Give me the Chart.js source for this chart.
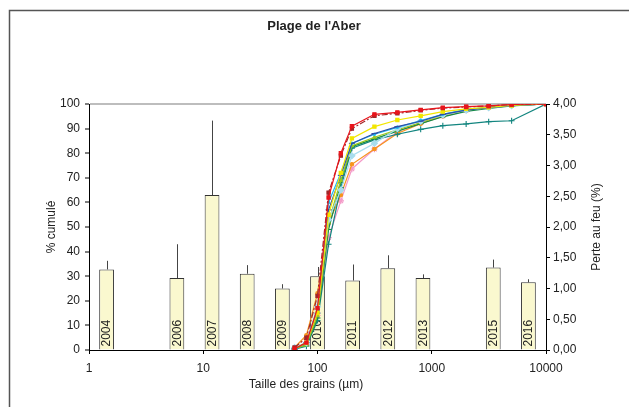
<!DOCTYPE html>
<html>
<head>
<meta charset="utf-8">
<script src="https://cdn.jsdelivr.net/npm/chart.js@4.4.0/dist/chart.umd.min.js"></script>
<style>
  html, body { margin: 0; padding: 0; background: #fff; }
  #wrap { width: 629px; height: 407px; position: relative; }
</style>
</head>
<body>
<div id="wrap"><canvas id="c" width="629" height="407"></canvas></div>
<script>
// ---- Data ----
const sizes = [63, 80, 100, 125, 160, 200, 315, 500, 800, 1250, 2000, 3150, 5000, 10000];

const cumRed      = [0.5, 3, 17, 62, 80, 91, 95.8, 96.6, 97.6, 98.5, 98.9, 99.2, 99.8, 100];
const cumDarkRed  = [1, 5, 22, 64, 79, 90, 95.2, 96.2, 97.4, 98.3, 98.8, 99.2, 99.8, 100];
const cumYellow   = [0.5, 3, 15, 55, 72, 86, 90.8, 93.5, 95.2, 96.9, 98, 98.6, 99.4, 100];
const cumBlue     = [0.5, 3, 15, 57, 71, 84, 88, 90.8, 93, 95.8, 97.5, 98.5, 99.3, 100];
const cumCyan     = [0.5, 3, 17, 60, 72, 84, 87.7, 90.5, 93.3, 95.8, 97.8, 98.6, 99.3, 100];
const cumLightBlue= [1, 3, 17.6, 53, 65, 79, 84, 90, 93, 95.5, 97.5, 98.5, 99.3, 100];
const cumOlive    = [0.5, 2, 14, 52, 69, 83, 86.5, 89.5, 92.5, 95.5, 97.5, 98.5, 99.3, 100];
const cumGreen    = [0.5, 2, 13, 49, 68, 82.7, 85.8, 89, 92, 94.8, 97, 98.2, 99.2, 100];
const cumTeal     = [0.3, 1.5, 12, 43, 66, 82, 85.4, 87.7, 89.7, 91.2, 91.9, 92.8, 93.2, 100];
const cumOrange   = [1, 6, 23, 51.5, 63, 75.5, 81.7, 88, 92, 95, 97.3, 98.5, 99.3, 100];
const cumPink     = [0.3, 2.5, 14, 45.7, 60.6, 73.6, 81.7, 88.7, 92.5, 95.2, 97.5, 98.7, 99.5, 100];

const years     = ['2004','2005','2006','2007','2008','2009','2010','2011','2012','2013','2014','2015','2016'];
const lossValues= [1.31, null, 1.17, 2.52, 1.24, 1.00, 1.20, 1.13, 1.33, 1.17, null, 1.34, 1.10];
const lossErr   = [0.14, null, 0.55, 1.21, 0.14, 0.07, 0.15, 0.26, 0.21, 0.06, null, 0.13, 0.05];

const xTicks  = [1, 10, 100, 1000, 10000];

// ---- Build ----
const FONT = '"Liberation Sans", Arial, sans-serif';
const toXY = arr => sizes.map((s, i) => ({ x: s, y: arr[i] }));

const lineDefs = [
  { d: cumRed,       c: '#E8141B', p: 'rect', r: 2.3 },
  { d: cumDarkRed,   c: '#A0282A', p: 'rect', r: 2.3, dash: [6, 2, 2, 2] },
  { d: cumYellow,    c: '#F2E600', p: 'rect', r: 2.3 },
  { d: cumBlue,      c: '#2F4FA8', p: 'line', r: 3 },
  { d: cumCyan,      c: '#1EBBF0', p: 'circle', r: 1.2 },
  { d: cumLightBlue, c: '#A8DDEE', p: 'rectRot', r: 3 },
  { d: cumOlive,     c: '#9CC81E', p: 'triangle', r: 1.8 },
  { d: cumGreen,     c: '#13894A', p: 'line', r: 3 },
  { d: cumTeal,      c: '#12857F', p: 'cross', r: 3 },
  { d: cumOrange,    c: '#F7941D', p: 'circle', r: 1.8 },
  { d: cumPink,      c: '#F49AC8', p: 'star', r: 3.2 }
];

const datasets = lineDefs.map(l => ({
  type: 'line',
  data: toXY(l.d),
  xAxisID: 'x',
  yAxisID: 'y',
  borderColor: l.c,
  backgroundColor: l.c,
  borderWidth: 1.2,
  borderDash: l.dash || [],
  pointStyle: l.p,
  pointRadius: l.r,
  pointBorderWidth: 1.1,
  pointBorderColor: l.c,
  pointBackgroundColor: l.c,
  tension: 0,
  fill: false,
  order: 0
}));

datasets.push({
  type: 'bar',
  data: lossValues,
  xAxisID: 'xb',
  yAxisID: 'y2',
  backgroundColor: '#FAF8CF',
  borderColor: '#333333',
  borderWidth: 1,
  barPercentage: 0.42,
  categoryPercentage: 1,
  grouped: false,
  order: 100
});
const BAR_INDEX = datasets.length - 1;

const decor = {
  id: 'decor',
  afterDatasetDraw(chart, args) {
    if (args.index !== BAR_INDEX) return;
    const ctx = chart.ctx;
    const meta = chart.getDatasetMeta(BAR_INDEX);
    const y2 = chart.scales.y2;
    ctx.save();
    meta.data.forEach((bar, i) => {
      if (lossValues[i] == null) return;
      const top = y2.getPixelForValue(lossValues[i] + lossErr[i]);
      ctx.strokeStyle = '#444';
      ctx.lineWidth = 1;
      ctx.beginPath();
      ctx.moveTo(Math.round(bar.x) + 0.5, bar.y);
      ctx.lineTo(Math.round(bar.x) + 0.5, top);
      ctx.stroke();
      ctx.save();
      ctx.translate(bar.x, bar.base - 3);
      ctx.rotate(-Math.PI / 2);
      ctx.fillStyle = '#222';
      ctx.font = '12px ' + FONT;
      ctx.textAlign = 'left';
      ctx.textBaseline = 'middle';
      ctx.fillText(years[i], 0, 0.5);
      ctx.restore();
    });
    ctx.restore();
  },
  afterDraw(chart) {
    const ctx = chart.ctx;
    const a = chart.chartArea;
    ctx.save();
    ctx.strokeStyle = '#555';
    ctx.lineWidth = 1.5;
    ctx.beginPath();
    ctx.moveTo(9.5, 407);
    ctx.lineTo(9.5, 10.5);
    ctx.lineTo(629, 10.5);
    ctx.stroke();
    ctx.fillStyle = '#222';
    ctx.font = 'bold 13px ' + FONT;
    ctx.textAlign = 'center';
    ctx.textBaseline = 'middle';
    ctx.fillText("Plage de l'Aber", 314, 26);
    ctx.font = '12px ' + FONT;
    ctx.fillText('Taille des grains (µm)', 306, 385);
    ctx.save();
    ctx.translate(52, (a.top + a.bottom) / 2);
    ctx.rotate(-Math.PI / 2);
    ctx.fillText('% cumulé', 0, 0);
    ctx.restore();
    ctx.save();
    ctx.translate(597, (a.top + a.bottom) / 2);
    ctx.rotate(-Math.PI / 2);
    ctx.fillText('Perte au feu (%)', 0, 0);
    ctx.restore();
    ctx.restore();
  }
};

new Chart(document.getElementById('c'), {
  type: 'line',
  data: { datasets },
  options: {
    responsive: false,
    animation: false,
    events: [],
    layout: { padding: { top: 104, left: 0, right: 0, bottom: 0 } },
    plugins: { legend: { display: false }, tooltip: { enabled: false }, title: { display: false } },
    scales: {
      x: {
        type: 'logarithmic',
        position: 'bottom',
        min: 1, max: 10000,
        afterBuildTicks: s => { s.ticks = xTicks.map(v => ({ value: v })); },
        afterFit: s => { s.height = 57; },
        ticks: {
          color: '#222', font: { family: FONT, size: 12 }, padding: 7,
          maxRotation: 0, autoSkip: false,
          callback: v => String(v)
        },
        grid: { drawOnChartArea: false, drawTicks: true, tickLength: 4, tickColor: '#000' },
        border: { color: '#000', width: 1 }
      },
      xb: {
        type: 'category',
        labels: years,
        display: false,
        offset: true
      },
      y: {
        position: 'left',
        min: 0, max: 100,
        afterBuildTicks: s => { s.ticks = []; for (let v = 0; v <= 100; v += 10) s.ticks.push({ value: v }); },
        afterFit: s => { s.width = 89; },
        ticks: { color: '#222', font: { family: FONT, size: 12 }, padding: 5 },
        grid: {
          drawOnChartArea: true, drawTicks: true, tickLength: 4,
          color: c => (c.tick && c.tick.value === 100) ? '#BDBDBD' : 'rgba(0,0,0,0)',
          lineWidth: c => (c.tick && c.tick.value === 100) ? 2 : 0,
          tickColor: '#000', tickWidth: 1
        },
        border: { color: '#000', width: 1 }
      },
      y2: {
        position: 'right',
        min: 0, max: 4,
        afterBuildTicks: s => { s.ticks = []; for (let v = 0; v <= 4.0001; v += 0.5) s.ticks.push({ value: +v.toFixed(2) }); },
        afterFit: s => { s.width = 83; },
        ticks: {
          color: '#222', font: { family: FONT, size: 12 }, padding: 3,
          callback: v => Number(v).toFixed(2).replace('.', ',')
        },
        grid: { drawOnChartArea: false, drawTicks: true, tickLength: 4, tickColor: '#000' },
        border: { color: '#000', width: 1 }
      }
    }
  },
  plugins: [decor]
});
</script>
</body>
</html>
